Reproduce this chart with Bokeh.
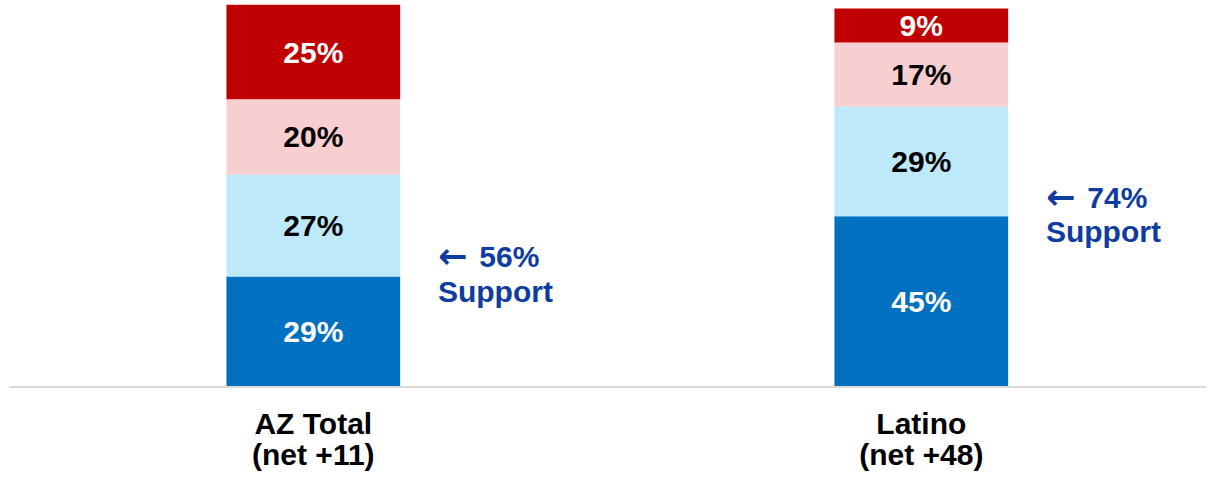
from bokeh.plotting import figure
from bokeh.models import Range1d, ColumnDataSource
from bokeh.core.properties import value
from bokeh.embed import file_html
from bokeh.resources import INLINE

# ---- data ----
categories = ["AZ Total", "Latino"]
net_labels = ["(net +11)", "(net +48)"]
strong_support = [29, 45]
some_support = [27, 29]
some_oppose = [20, 17]
strong_oppose = [25, 9]
support_totals = [56, 74]

series = [strong_support, some_support, some_oppose, strong_oppose]
colors = ["#0070C0", "#BDE9FA", "#F8CFD0", "#C00000"]
text_colors = ["white", "black", "black", "white"]
ann_color = "#0F3C9F"
FONT = value("Liberation Sans")
FS = "30px"

xs = list(range(len(categories)))

p = figure(width=1206, height=475,
           x_range=Range1d(-0.5145, 1.4691), y_range=Range1d(-23.71, 102.15),
           output_backend="svg", toolbar_location=None, min_border=0)
p.axis.visible = False
p.grid.visible = False
p.outline_line_color = None

# baseline
p.segment(x0=[-0.4998], y0=[-0.27], x1=[1.4691], y1=[-0.27], line_color="#D9D9D9", line_width=2)

# stacked bars
bottoms = [0] * len(categories)
for vals, col, tcol in zip(series, colors, text_colors):
    tops = [b + v for b, v in zip(bottoms, vals)]
    src = ColumnDataSource(dict(x=xs, bottom=bottoms, top=tops,
                                mid=[(b + t) / 2 for b, t in zip(bottoms, tops)],
                                lab=[f"{v}%" for v in vals]))
    p.vbar(x="x", bottom="bottom", top="top", width=0.2857, source=src,
           fill_color=col, line_color=None)
    p.text(x="x", y="mid", text="lab", source=src, text_align="center",
           text_baseline="middle", text_color=tcol, text_font=FONT,
           text_font_size=FS, text_font_style="bold")
    bottoms = tops

# category labels
p.text(x=xs, y=[-9.9] * 2, text=categories, text_align="center", text_baseline="middle",
       text_color="black", text_font=FONT, text_font_size=FS, text_font_style="bold")
p.text(x=xs, y=[-18.1] * 2, text=net_labels, text_align="center", text_baseline="middle",
       text_color="black", text_font=FONT, text_font_size=FS, text_font_style="bold")

# support annotations
arrow_x = [x + 0.205 for x in xs]
num_x = [x + 0.273 for x in xs]
ann_y1 = [34.4, 50.0]
ann_y2 = [25.0, 41.0]
p.text(x=arrow_x, y=ann_y1, text=["\u2190"] * 2, text_align="left",
       text_baseline="middle", text_color=ann_color, text_font=value("DejaVu Sans"),
       text_font_size="35px", text_font_style="bold")
p.text(x=num_x, y=ann_y1, text=[f"{t}%" for t in support_totals], text_align="left",
       text_baseline="middle", text_color=ann_color, text_font=FONT, text_font_size=FS,
       text_font_style="bold")
p.text(x=arrow_x, y=ann_y2, text=["Support"] * 2, text_align="left",
       text_baseline="middle", text_color=ann_color, text_font=FONT, text_font_size=FS,
       text_font_style="bold")

open("out.html", "w").write(file_html(p, INLINE))
